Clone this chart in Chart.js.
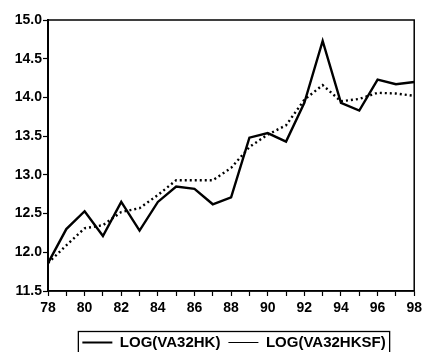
<!DOCTYPE html>
<html>
<head>
<meta charset="utf-8">
<script src="https://cdn.jsdelivr.net/npm/chart.js@4/dist/chart.umd.min.js"></script>
<style>
  html, body { margin: 0; padding: 0; background: #fff; overflow: hidden; }
  #wrap { width: 426px; height: 352px; overflow: hidden; }
</style>
</head>
<body>
<!-- canvas is a bit taller than the page: the legend box runs off the bottom edge as in the scan -->
<div id="wrap"><canvas id="chart" width="426" height="360"></canvas></div>
<script>
// years 1978..1998
var years = ["78","79","80","81","82","83","84","85","86","87","88",
             "89","90","91","92","93","94","95","96","97","98"];
var va32hk = [11.86, 12.30, 12.53, 12.21, 12.65, 12.28, 12.65, 12.85, 12.82, 12.62, 12.71,
              13.48, 13.54, 13.43, 13.93, 14.73, 13.93, 13.83, 14.23, 14.17, 14.20];
var va32hksf = [11.86, 12.09, 12.31, 12.35, 12.52, 12.57, 12.74, 12.93, 12.93, 12.93, 13.09,
                13.36, 13.52, 13.64, 13.97, 14.16, 13.95, 13.98, 14.06, 14.05, 14.02];
var yMin = 11.5, yMax = 15.0;

var tickFont = { family: "'Liberation Sans', Arial, sans-serif", size: 14, weight: "bold" };
var legendFont = { family: "'Liberation Sans', Arial, sans-serif", size: 15, weight: "bold" };

// frame round the plot, legend moved right a little and boxed
var framePlugin = {
    id: "frame",
    afterUpdate: function(chart) {
        var lg = chart.legend;
        var dx = 234 - (lg.left + lg.right) / 2;
        lg.left += dx;
        lg.right += dx;
        (lg.legendHitBoxes || []).forEach(function(hb) { hb.left += dx; });
    },
    afterDraw: function(chart) {
        var c = chart.ctx, a = chart.chartArea;
        c.save();
        c.strokeStyle = "#000";
        c.lineWidth = 1.5;
        c.strokeRect(a.left, a.top, a.right - a.left, a.bottom - a.top);
        var boxes = chart.legend.legendHitBoxes;
        if (boxes && boxes.length) {
            var first = boxes[0], last = boxes[boxes.length - 1];
            var cy = first.top + first.height / 2;
            var x0 = first.left - 4, x1 = last.left + last.width + 4;
            c.lineWidth = 1.3;
            c.strokeRect(x0, cy - 11, x1 - x0, 30);
        }
        c.restore();
    }
};

var ctx = document.getElementById("chart").getContext("2d");
new Chart(ctx, {
    type: "line",
    data: {
        labels: years,
        datasets: [
            {
                label: "LOG(VA32HK)",
                data: va32hk,
                borderColor: "#000",
                borderWidth: 2.4,
                pointRadius: 0,
                tension: 0
            },
            {
                label: "LOG(VA32HKSF)",
                data: va32hksf,
                borderColor: "#000",
                borderWidth: 2.4,
                borderDash: [2, 3],
                pointRadius: 0,
                tension: 0
            }
        ]
    },
    options: {
        responsive: false,
        animation: false,
        layout: { padding: { left: 0, right: 9, top: 20, bottom: 0 } },
        plugins: {
            tooltip: { enabled: false },
            legend: {
                position: "bottom",
                labels: {
                    color: "#000",
                    font: legendFont,
                    usePointStyle: true,
                    pointStyle: "line",
                    pointStyleWidth: 30,
                    padding: 8,
                    generateLabels: function(chart) {
                        return chart.data.datasets.map(function(ds, i) {
                            return {
                                text: ds.label,
                                datasetIndex: i,
                                strokeStyle: "#000",
                                fillStyle: "#000",
                                lineWidth: i === 0 ? 2 : 1,
                                lineDash: [],
                                pointStyle: "line",
                                fontColor: "#000"
                            };
                        });
                    }
                }
            }
        },
        scales: {
            x: {
                type: "category",
                offset: false,
                grid: { drawOnChartArea: false, tickLength: 5, color: "#000", tickWidth: 1.2 },
                border: { color: "#000", width: 1.5 },
                ticks: {
                    color: "#000",
                    font: tickFont,
                    autoSkip: false,
                    maxRotation: 0,
                    padding: 4,
                    callback: function(v, i) { return i % 2 === 0 ? years[i] : ""; }
                },
                afterFit: function(s) { s.height = 36; }
            },
            y: {
                min: yMin,
                max: yMax,
                grid: { drawOnChartArea: false, tickLength: 5, color: "#000", tickWidth: 1.2 },
                border: { color: "#000", width: 2 },
                ticks: {
                    color: "#000",
                    font: tickFont,
                    stepSize: 0.5,
                    padding: 1,
                    callback: function(v) { return v.toFixed(1); }
                },
                afterFit: function(s) { s.width = 48; }
            }
        }
    },
    plugins: [framePlugin]
});
</script>
</body>
</html>
